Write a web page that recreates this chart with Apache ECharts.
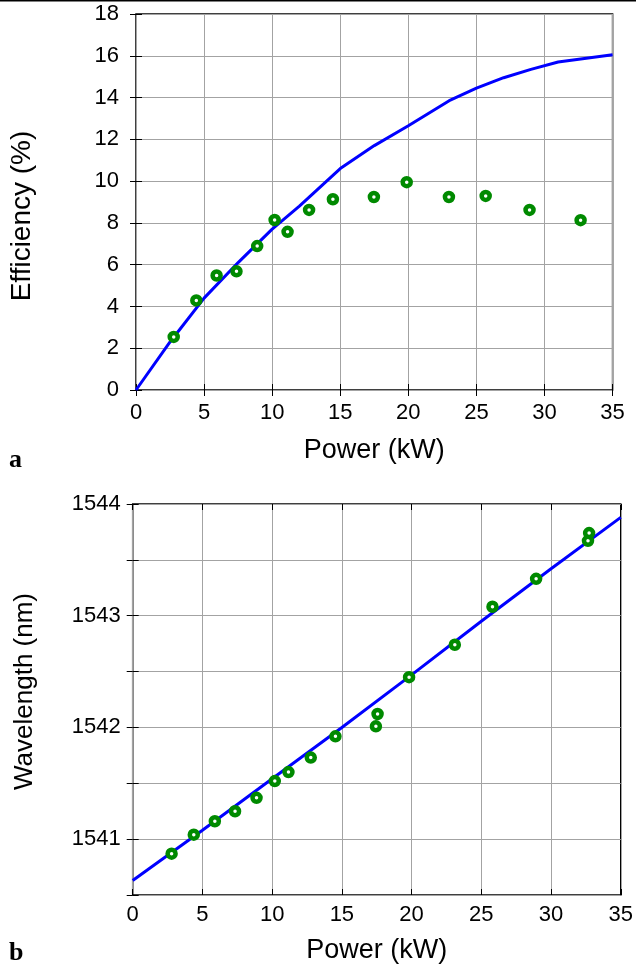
<!DOCTYPE html>
<html>
<head>
<meta charset="utf-8">
<script src="https://cdn.jsdelivr.net/npm/echarts@6/dist/echarts.min.js"></script>
<style>
html,body{margin:0;padding:0;background:#fff;}
#chart{width:636px;height:967px;}
</style>
</head>
<body>
<div id="chart"></div>
<script>
// ---- Data ----
// Panel a: efficiency vs power
const effMeasPower = [2.77, 4.43, 5.92, 7.38, 8.90, 10.18, 11.13, 12.71, 14.46, 17.47, 19.88, 22.98, 25.68, 28.90, 32.65];
const effMeasValue = [2.54, 4.29, 5.48, 5.68, 6.89, 8.14, 7.57, 8.62, 9.13, 9.24, 9.95, 9.24, 9.29, 8.62, 8.13];
const effModelPower = [0, 2.5, 5, 7.5, 10, 12, 15, 17.5, 20, 23, 25, 27, 29, 31, 35];
const effModelValue = [0, 2.3, 4.4, 6.1, 7.7, 8.8, 10.6, 11.7, 12.65, 13.85, 14.45, 14.95, 15.35, 15.7, 16.05];

// Panel b: wavelength vs power
const wlMeasPower = [2.79, 4.38, 5.89, 7.34, 8.88, 10.19, 11.17, 12.77, 14.54, 17.44, 17.56, 19.82, 23.10, 25.80, 28.93, 32.65, 32.73];
const wlMeasValue = [1540.87, 1541.04, 1541.16, 1541.25, 1541.37, 1541.52, 1541.60, 1541.73, 1541.92, 1542.01, 1542.12, 1542.45, 1542.74, 1543.08, 1543.33, 1543.67, 1543.74];
const wlModelPower = [0, 5, 10, 15, 20, 25, 30, 35];
const wlModelValue = [1540.63, 1541.08, 1541.54, 1542.0, 1542.47, 1542.95, 1543.42, 1543.88];

// Axis ranges / ticks
const powerTicks = {min: 0, max: 35, interval: 5};
const effTicks = {min: 0, max: 18, interval: 2};
const wlTicks = {min: 1540.5, max: 1544, interval: 0.5};

const FONT = '"Liberation Sans", Arial, Helvetica, sans-serif';
const zip = (xs, ys) => xs.map((x, i) => [x, ys[i]]);

const chart = echarts.init(document.getElementById('chart'), null, {renderer: 'canvas'});

const gridLine = {show: true, lineStyle: {color: '#a3a3a3', width: 1}};
const tickStyle = {show: true, inside: true, length: 6, lineStyle: {color: '#000', width: 1}};
const markerStyle = {color: '#ffffff', borderColor: '#008a00', borderWidth: 4.5, opacity: 1};

function xAxisPair(gi, labelSize, labelMargin, nameGap) {
  return [
    Object.assign({type: 'value', gridIndex: gi, position: 'bottom'}, powerTicks, {
      axisLine: {show: false},
      axisTick: tickStyle,
      splitLine: gridLine,
      axisLabel: {fontSize: labelSize, color: '#000', fontFamily: FONT, margin: labelMargin},
      name: 'Power (kW)', nameLocation: 'middle', nameGap: nameGap,
      nameTextStyle: {fontSize: 27, color: '#000', fontFamily: FONT}
    }),
    Object.assign({type: 'value', gridIndex: gi, position: 'top'}, powerTicks, {
      axisLine: {show: false}, axisTick: tickStyle, splitLine: {show: false}, axisLabel: {show: false}
    })
  ];
}

const option = {
  animation: false,
  backgroundColor: '#fff',
  grid: [
    {left: 135.5, right: 636 - 612.6, top: 14, bottom: 967 - 390, show: true, borderColor: '#000', borderWidth: 1.5, backgroundColor: 'transparent'},
    {left: 132.7, right: 636 - 622, top: 504, bottom: 967 - 895, show: true, borderColor: '#000', borderWidth: 1.5, backgroundColor: 'transparent'}
  ],
  xAxis: [].concat(xAxisPair(0, 22, 12, 47), xAxisPair(1, 22, 9, 42)),
  yAxis: [
    Object.assign({type: 'value', gridIndex: 0, position: 'left'}, effTicks, {
      axisLine: {show: false}, axisTick: tickStyle, splitLine: gridLine,
      axisLabel: {fontSize: 22, color: '#000', fontFamily: FONT, margin: 17},
      name: 'Efficiency (%)', nameLocation: 'middle', nameGap: 100,
      nameTextStyle: {fontSize: 28, color: '#000', fontFamily: FONT, padding: [0, 28, 0, 0]}
    }),
    Object.assign({type: 'value', gridIndex: 0, position: 'right'}, effTicks, {
      axisLine: {show: false}, axisTick: tickStyle, splitLine: {show: false}, axisLabel: {show: false}
    }),
    Object.assign({type: 'value', gridIndex: 1, position: 'left'}, wlTicks, {
      axisLine: {show: false}, axisTick: tickStyle, splitLine: gridLine,
      axisLabel: {fontSize: 22, color: '#000', fontFamily: FONT, margin: 12,
        formatter: v => (Math.abs(v - Math.round(v)) < 1e-6 ? String(Math.round(v)) : '')},
      name: 'Wavelength (nm)', nameLocation: 'middle', nameGap: 95,
      nameTextStyle: {fontSize: 26, color: '#000', fontFamily: FONT, padding: [0, 0, 0, 16]}
    }),
    Object.assign({type: 'value', gridIndex: 1, position: 'right'}, wlTicks, {
      axisLine: {show: false}, axisTick: tickStyle, splitLine: {show: false}, axisLabel: {show: false}
    })
  ],
  series: [
    {type: 'line', xAxisIndex: 0, yAxisIndex: 0, data: zip(effModelPower, effModelValue),
      showSymbol: false, symbol: 'none', lineStyle: {color: '#0000ff', width: 3}, z: 2},
    {type: 'scatter', xAxisIndex: 0, yAxisIndex: 0, data: zip(effMeasPower, effMeasValue),
      symbol: 'circle', symbolSize: 8, itemStyle: markerStyle, z: 3},
    {type: 'line', xAxisIndex: 2, yAxisIndex: 2, data: zip(wlModelPower, wlModelValue),
      showSymbol: false, symbol: 'none', lineStyle: {color: '#0000ff', width: 3}, z: 2},
    {type: 'scatter', xAxisIndex: 2, yAxisIndex: 2, data: zip(wlMeasPower, wlMeasValue),
      symbol: 'circle', symbolSize: 8, itemStyle: markerStyle, z: 3}
  ],
  graphic: [
    {type: 'rect', left: 0, top: 0, shape: {width: 636, height: 1.5}, style: {fill: '#000'}},
    {type: 'text', left: 9, top: 447, style: {text: 'a', font: 'bold 26px "Liberation Serif", "Times New Roman", serif', fill: '#000'}},
    {type: 'text', left: 9, top: 940, style: {text: 'b', font: 'bold 26px "Liberation Serif", "Times New Roman", serif', fill: '#000'}}
  ]
};
chart.setOption(option);
</script>
</body>
</html>
